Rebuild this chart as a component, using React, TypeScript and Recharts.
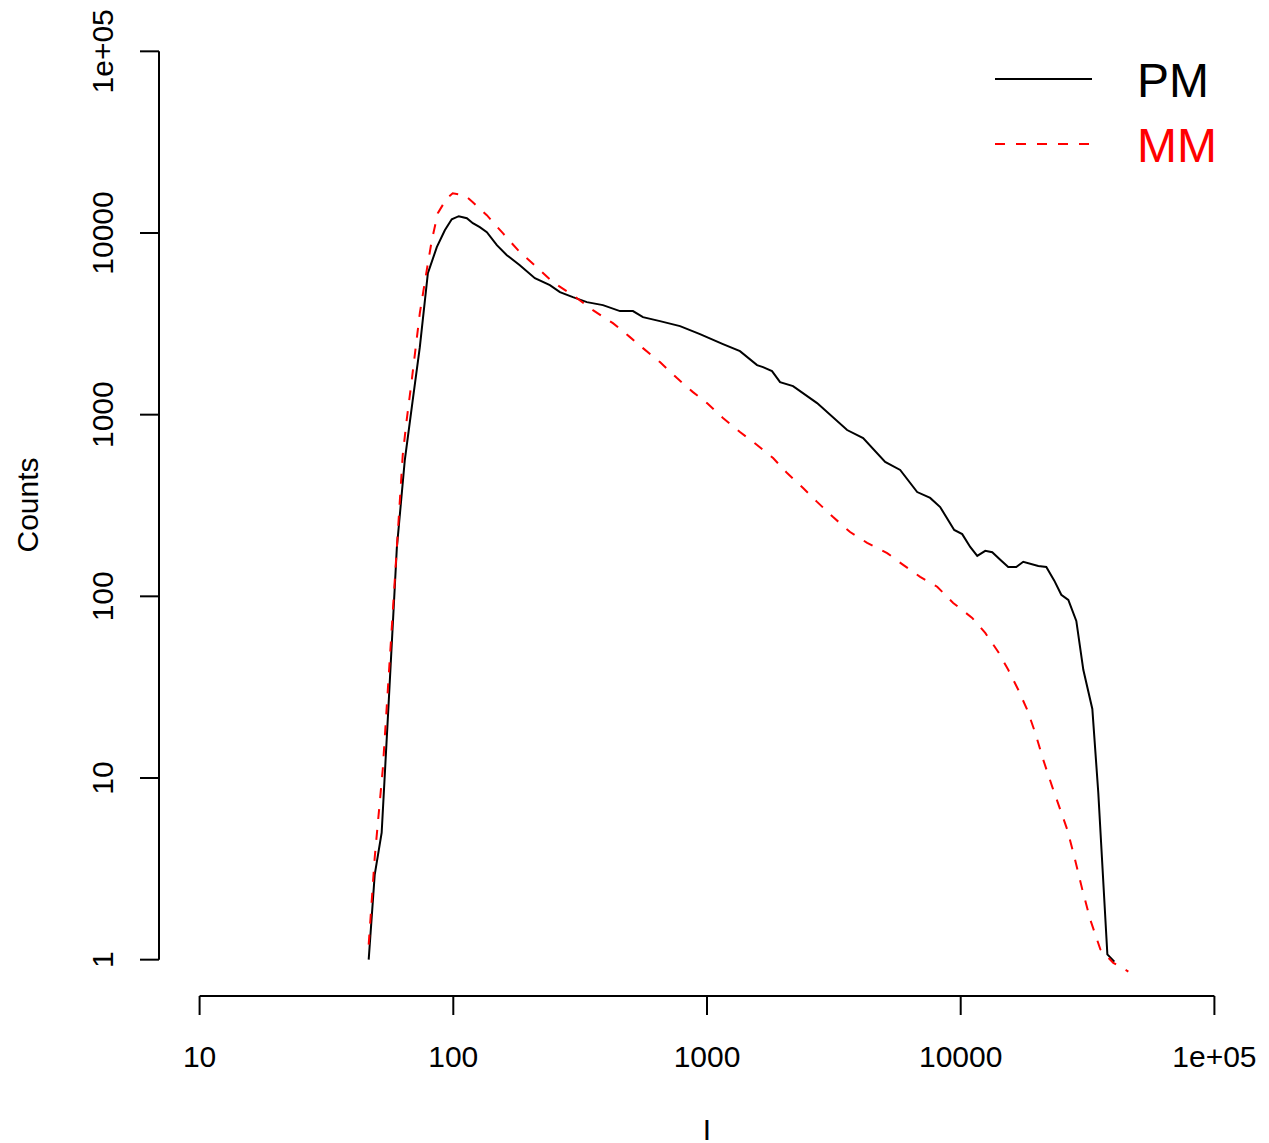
import React from 'react';
import { LineChart, Line, XAxis, YAxis, ReferenceLine, Legend, Label } from 'recharts';

// intensity (I) and counts, log-log plot
const pmIntensity = [46.4, 49.0, 52.2, 55.7, 59.9, 64.4, 69.2, 73.8, 79.4, 86.1, 92.6, 98.6, 105.1, 113.1, 119.4, 127.2, 135.6, 148.5, 162.6, 182.9, 209.7, 240.3, 263.2, 296.1, 336.2, 388.9, 453.9, 510.7, 559.2, 652.5, 782.9, 938.4, 1156, 1349, 1575, 1663, 1804, 1941, 2184, 2716, 3567, 4125, 5038, 5773, 6737, 7580, 8300, 9428, 10137, 10901, 11620, 12495, 13315, 14319, 15394, 16556, 17640, 20222, 21747, 23384, 24915, 26555, 28556, 30430, 33025, 34858, 37850, 40321];
const pmCounts = [1, 2.93, 5.0, 26.9, 184.6, 562.9, 1203, 2353, 6009, 8355, 10361, 11910, 12373, 12064, 11324, 10762, 10101, 8568, 7550, 6653, 5642, 5163, 4724, 4436, 4164, 4009, 3715, 3715, 3443, 3273, 3071, 2775, 2445, 2238, 1874, 1827, 1737, 1511, 1437, 1158, 823, 743, 549, 496, 375, 348, 310, 232, 220, 187, 167, 178, 175, 159, 145, 145, 155, 147, 145, 122, 102, 95.5, 73.2, 39.4, 24.0, 8.3, 1.07, 0.975];

const mmIntensity = [46.4, 49.0, 52.7, 56.2, 59.9, 63.2, 65.5, 68.6, 73.8, 78.6, 82.3, 86.9, 94.3, 99.5, 111.0, 119.4, 135.6, 156.8, 182.9, 213.5, 247.0, 296.1, 355.1, 425.8, 497.1, 559.2, 652.5, 761.6, 880.6, 1000, 1156, 1349, 1575, 1822, 2069, 2392, 2716, 3141, 3665, 4278, 5130, 5932, 6922, 8078, 9341, 11101, 12495, 14060, 15394, 16860, 18296, 19675, 21153, 22957, 24695, 26311, 27790, 30160, 32417, 35510, 39960, 45790];
const mmCounts = [1.21, 3.64, 11.1, 45.3, 184.6, 599.6, 934, 1550, 3622, 6244, 9130, 12850, 15540, 16550, 16140, 14770, 12530, 9975, 7842, 6484, 5363, 4550, 3762, 3190, 2672, 2324, 1947, 1590, 1331, 1158, 958, 802, 681, 577, 477, 395, 331, 273, 226, 197, 173, 149, 128, 113, 92.0, 76.1, 62.9, 49.4, 39.4, 30.6, 23.7, 17.7, 12.6, 8.94, 6.69, 5.19, 3.88, 2.43, 1.66, 1.14, 0.96, 0.86];

const xTicks = [10, 100, 1000, 10000, 100000];
const yTicks = [1, 10, 100, 1000, 10000, 100000];
const legendOrder = ['PM', 'MM'];

const pmData = pmIntensity.map((x, i) => ({ x, y: pmCounts[i] }));
const mmData = mmIntensity.map((x, i) => ({ x, y: mmCounts[i] }));

// R style: 4% extra room around the axis range
const xDomain = [Math.pow(10, 0.84), Math.pow(10, 5.16)];
const yDomain = [Math.pow(10, -0.2), Math.pow(10, 5.2)];

const FONT = '"Liberation Sans", Arial, Helvetica, sans-serif';

const fmt = (v: number) => (v >= 100000 ? '1e+05' : String(v));

const XTick = ({ x, y, payload }: any) => (
  <text x={x} y={y + 50} textAnchor="middle" fontSize={30} fontFamily={FONT} fill="#000">
    {fmt(payload.value)}
  </text>
);

const YTick = ({ x, y, payload }: any) => (
  <text
    x={x - 25}
    y={y}
    transform={`rotate(-90, ${x - 25}, ${y})`}
    textAnchor="middle"
    fontSize={30}
    fontFamily={FONT}
    fill="#000"
  >
    {fmt(payload.value)}
  </text>
);

const LegendBox = ({ payload }: any) => {
  const items = [...(payload || [])].sort(
    (a: any, b: any) => legendOrder.indexOf(a.value) - legendOrder.indexOf(b.value)
  );
  return (
    <svg width={279} height={140}>
      {items.map((entry: any, i: number) => (
        <g key={entry.value}>
          <line
            x1={5}
            x2={102}
            y1={39 + i * 65}
            y2={39 + i * 65}
            stroke={entry.color}
            strokeWidth={2}
            strokeDasharray={entry.payload?.strokeDasharray}
          />
          <text x={147} y={57 + i * 65} fontSize={48} fontFamily={FONT} fill={entry.color}>
            {entry.value}
          </text>
        </g>
      ))}
    </svg>
  );
};

const App = () => {
  return (
    <div style={{ position: 'absolute', left: 0, top: 0, background: '#fff' }}>
      <LineChart width={1269} height={1143} margin={{ top: 15, right: 14, bottom: 47, left: 39 }}>
        <XAxis
          dataKey="x"
          type="number"
          scale="log"
          domain={xDomain}
          allowDataOverflow
          ticks={xTicks}
          interval={0}
          axisLine={false}
          tickLine={{ stroke: '#000', strokeWidth: 2 }}
          tickSize={19}
          height={100}
          tick={<XTick />}
        >
          <Label
            content={() => (
              <text x={707} y={1140} textAnchor="middle" fontSize={30} fontFamily={FONT} fill="#000">
                I
              </text>
            )}
          />
        </XAxis>
        <YAxis
          dataKey="y"
          type="number"
          scale="log"
          domain={yDomain}
          allowDataOverflow
          ticks={yTicks}
          interval={0}
          axisLine={false}
          tickLine={{ stroke: '#000', strokeWidth: 2 }}
          tickSize={19}
          width={120}
          tick={<YTick />}
        >
          <Label
            content={() => (
              <text
                x={38}
                y={505}
                transform="rotate(-90, 38, 505)"
                textAnchor="middle"
                fontSize={30}
                fontFamily={FONT}
                fill="#000"
              >
                Counts
              </text>
            )}
          />
        </YAxis>
        <ReferenceLine
          segment={[{ x: xDomain[0], y: 1 }, { x: xDomain[0], y: 100000 }]}
          stroke="#000"
          strokeWidth={2}
          ifOverflow="visible"
        />
        <ReferenceLine
          segment={[{ x: 10, y: yDomain[0] }, { x: 100000, y: yDomain[0] }]}
          stroke="#000"
          strokeWidth={2}
          ifOverflow="visible"
        />
        <Legend
          layout="vertical"
          align="center"
          verticalAlign="middle"
          wrapperStyle={{ position: 'absolute', left: 990, top: 40, width: 279, height: 140 }}
          content={<LegendBox />}
        />
        <Line
          data={pmData}
          dataKey="y"
          name="PM"
          type="linear"
          stroke="#000000"
          strokeWidth={2}
          dot={false}
          isAnimationActive={false}
        />
        <Line
          data={mmData}
          dataKey="y"
          name="MM"
          type="linear"
          stroke="#FF0000"
          strokeWidth={2}
          strokeDasharray="10 11"
          dot={false}
          isAnimationActive={false}
        />
      </LineChart>
    </div>
  );
};

export default App;
